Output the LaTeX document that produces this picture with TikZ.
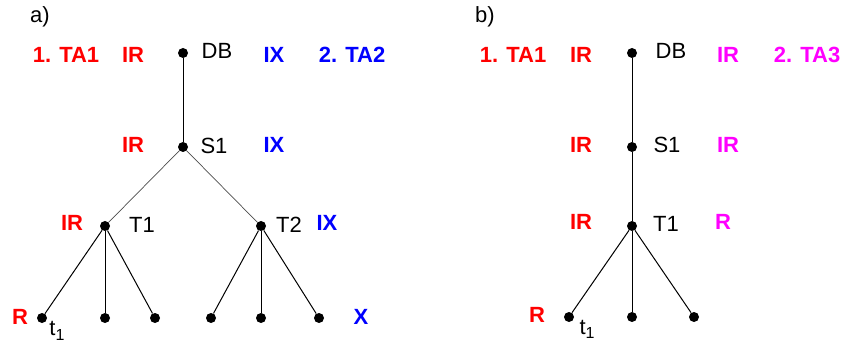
\documentclass[tikz,border=0pt]{standalone}
\usepackage{fontspec}
\setmainfont{Liberation Sans}
\usepackage{xcolor}
\usetikzlibrary{positioning}
\definecolor{lockred}{RGB}{255, 0, 0}
\definecolor{lockblue}{RGB}{0, 0, 255}
\definecolor{lockmagenta}{RGB}{255, 0, 255}

\tikzset{
    dot/.style={circle, fill=black, inner sep=0pt, minimum size=10pt},
    lbl/.style={anchor=base, inner sep=0pt, font=\fontsize{22}{26}\selectfont},
    lck/.style={anchor=base, inner sep=0pt, font=\fontsize{22}{26}\selectfont\bfseries},
    edge/.style={line width=1pt, black},
    thinedge/.style={line width=0.7pt, black!70}
}

\begin{document}
\begin{tikzpicture}[x=1pt, y=-1pt]
    \useasboundingbox (0,0) rectangle (845,344);

    % Panel a: tree
    \node[lbl] (atitle) at (40,23) {a)};
    \node[dot] (aDB) at (183,53) {};
    \node[dot] (aS1) at (183,147) {};
    \node[dot] (aT1) at (105,226) {};
    \node[dot] (aT2) at (261,226) {};
    \foreach \x [count=\i] in {42,105,155} \node[dot] (at\i) at (\x,318) {};
    \foreach \x [count=\i] in {211,261,319} \node[dot] (au\i) at (\x,318) {};

    \draw[edge] (aDB) -- (aS1);
    \draw[thinedge] (aS1) -- (aT1);
    \draw[thinedge] (aS1) -- (aT2);
    \foreach \i in {1,2,3} {
        \draw[edge] (aT1) -- (at\i);
        \draw[edge] (aT2) -- (au\i);
    }

    % Panel a: names
    \node[lbl] (aDBname) at (217,59) {DB};
    \node[lbl] (aS1name) at (214,154) {S1};
    \node[lbl] (aT1name) at (142,233) {T1};
    \node[lbl] (aT2name) at (289,233) {T2};
    \node[lbl] (at1name) at (57,335) {t\raisebox{-5pt}{\fontsize{16}{16}\selectfont 1}};

    % Panel a: locks
    \node[lck, color=lockred] (ata1) at (66,63) {1. TA1};
    \node[lck, color=lockred] (adbred) at (133,63) {IR};
    \node[lck, color=lockblue] (adbblue) at (274,63) {IX};
    \node[lck, color=lockblue] (ata2) at (352,63) {2. TA2};
    \node[lck, color=lockred] (as1red) at (133,153) {IR};
    \node[lck, color=lockblue] (as1blue) at (274,153) {IX};
    \node[lck, color=lockred] (at1red) at (72,231) {IR};
    \node[lck, color=lockblue] (at2blue) at (327,231) {IX};
    \node[lck, color=lockred] (aleafred) at (20,324) {R};
    \node[lck, color=lockblue] (aleafblue) at (361,324) {X};

    % Panel b: tree
    \node[lbl] (btitle) at (485,23) {b)};
    \node[dot] (bDB) at (632,53) {};
    \node[dot] (bS1) at (632,147) {};
    \node[dot] (bT1) at (632,226) {};
    \foreach \x [count=\i] in {569,632,694} \node[dot] (bt\i) at (\x,317) {};

    \draw[edge] (bDB) -- (bS1);
    \draw[edge] (bS1) -- (bT1);
    \foreach \i in {1,2,3} \draw[edge] (bT1) -- (bt\i);

    % Panel b: names
    \node[lbl] (bDBname) at (671,59) {DB};
    \node[lbl] (bS1name) at (667,153) {S1};
    \node[lbl] (bT1name) at (666,232) {T1};
    \node[lbl] (bt1name) at (587,334) {t\raisebox{-5pt}{\fontsize{16}{16}\selectfont 1}};

    % Panel b: locks
    \node[lck, color=lockred] (bta1) at (513,63) {1. TA1};
    \node[lck, color=lockred] (bdbred) at (581,63) {IR};
    \node[lck, color=lockmagenta] (bdbmag) at (728,63) {IR};
    \node[lck, color=lockmagenta] (bta3) at (807,63) {2. TA3};
    \node[lck, color=lockred] (bs1red) at (581,153) {IR};
    \node[lck, color=lockmagenta] (bs1mag) at (728,153) {IR};
    \node[lck, color=lockred] (bt1red) at (581,230) {IR};
    \node[lck, color=lockmagenta] (bt1mag) at (723,230) {R};
    \node[lck, color=lockred] (bleafred) at (537,322) {R};
\end{tikzpicture}
\end{document}
